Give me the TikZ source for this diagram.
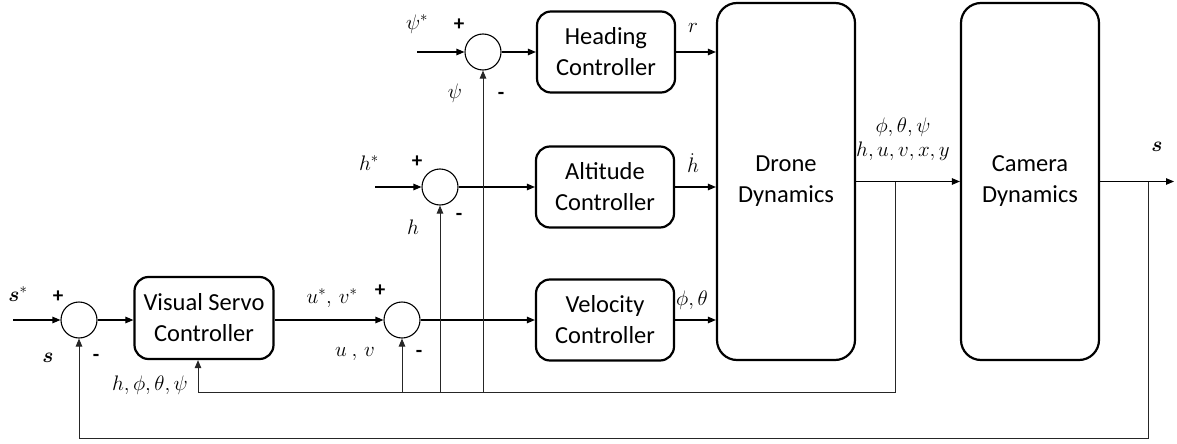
\RequirePackage{fix-cm}
\documentclass[tikz,border=0pt]{standalone}
\usepackage{amsmath}
\usepackage{fontspec}
\setmainfont{Carlito}
\usetikzlibrary{arrows.meta}
\tikzset{
  blk/.style={draw, line width=2.2pt, rounded corners=14pt, align=center,
    font=\fontsize{24.5}{31}\selectfont, minimum width=138pt, minimum height=81pt, inner sep=0pt},
  tall/.style={blk, rounded corners=20pt, minimum height=357pt},
  sumc/.style={draw, circle, minimum size=36pt, inner sep=0pt, line width=1.1pt},
  wire/.style={line width=1.1pt},
  fb/.style={line width=1pt, draw=black!85},
  arr/.style={-{Triangle[length=8pt,width=6.5pt]}},
  lbl/.style={inner sep=0pt, font=\fontsize{21}{25}\selectfont},
  sgn/.style={inner sep=0pt, font=\fontsize{21}{25}\selectfont},
}
\begin{document}
\begin{tikzpicture}[x=1pt,y=-1pt]
\useasboundingbox (0,0) rectangle (1177,444);
% blocks
\node[blk, minimum width=139pt, minimum height=82pt] (vsc) at (204,318) {Visual Servo\\Controller};
\node[blk] (head) at (606,52) {Heading\\Controller};
\node[blk] (alt) at (605,187) {Altitude\\Controller};
\node[blk] (vel) at (605,320) {Velocity\\Controller};
\node[tall] (drone) at (786,181.5) {Drone\\Dynamics};
\node[tall] (cam) at (1030,181.5) {Camera\\Dynamics};
% sums
\node[sumc] (s1) at (79,320) {};
\node[sumc] (s2) at (402,320) {};
\node[sumc] (sh) at (483,52) {};
\node[sumc] (sa) at (440,187) {};
% inputs
\coordinate (sin) at (13,320);
\coordinate (psiin) at (417,52);
\coordinate (hin) at (375,187);
\draw[wire,arr] (sin) -- (s1.west);
\draw[wire,arr] (psiin) -- (sh.west);
\draw[wire,arr] (hin) -- (sa.west);
% forward path
\draw[wire,arr] (s1.east) -- (s1.east -| vsc.west);
\draw[wire,arr] (vsc.east |- s2) -- (s2.west);
\draw[wire,arr] (s2.east) -- (vel.west);
\draw[wire,arr] (sh.east) -- (head.west);
\draw[wire,arr] (sa.east) -- (alt.west);
\draw[wire,arr] (head.east) -- (head.east -| drone.west);
\draw[wire,arr] (alt.east) -- (alt.east -| drone.west);
\draw[wire,arr] (vel.east) -- (vel.east -| drone.west);
\draw[wire,arr] (drone.east) -- (cam.west);
\coordinate (sout) at (1174,181.5);
\draw[wire,arr] (cam.east) -- (sout);
% inner feedback
\coordinate (b1) at (895,181.5);
\coordinate (b1d) at (895,392);
\coordinate (fb1) at (198,392);
\draw[fb] (b1) -- (b1d) -- (fb1);
\draw[fb,arr] (fb1) -- (fb1 |- vsc.south);
\draw[fb,arr] (s2 |- b1d) -- (s2.south);
\draw[fb,arr] (sa |- b1d) -- (sa.south);
\draw[fb,arr] (sh |- b1d) -- (sh.south);
% outer feedback
\coordinate (b2) at (1148,181.5);
\coordinate (b2d) at (1148,438);
\draw[fb,arr] (b2) -- (b2d) -- (b2d -| s1) -- (s1.south);
% labels
\node[lbl] (lsstar) at (18,294) {$\boldsymbol{s}^{*}$};
\node[sgn] (p1) at (58,297) {\textbf{+}};
\node[lbl] (ls) at (48,358) {$\boldsymbol{s}$};
\node[sgn] (m1) at (96,358) {\textbf{-}};
\node[lbl] (luv) at (332,298) {$u^{*},\,v^{*}$};
\node[sgn] (p2) at (380,291) {\textbf{+}};
\node[lbl] (luv2) at (355,354) {$u\ ,\,v$};
\node[sgn] (m2) at (419,354) {\textbf{-}};
\node[lbl] (lfb) at (150,385) {$h,\phi,\theta,\psi$};
\node[lbl] (lpsis) at (417,24) {$\psi^{*}$};
\node[sgn] (p3) at (459,25) {\textbf{+}};
\node[lbl] (lpsi) at (455,93) {$\psi$};
\node[sgn] (m3) at (501,96) {\textbf{-}};
\node[lbl] (lhs) at (369,163) {$h^{*}$};
\node[sgn] (p4) at (417,162) {\textbf{+}};
\node[lbl] (lh) at (413,227) {$h$};
\node[sgn] (m4) at (459,217) {\textbf{-}};
\node[lbl] (lr) at (693,28) {$r$};
\node[lbl] (lhd) at (693,163) {$\dot{h}$};
\node[lbl] (lpt) at (692,300) {$\phi,\theta$};
\node[lbl] (lo1) at (903,127) {$\phi,\theta,\psi$};
\node[lbl] (lo2) at (903,151) {$h,u,v,x,y$};
\node[lbl] (lsout) at (1157,147) {$\boldsymbol{s}$};
\end{tikzpicture}
\end{document}
